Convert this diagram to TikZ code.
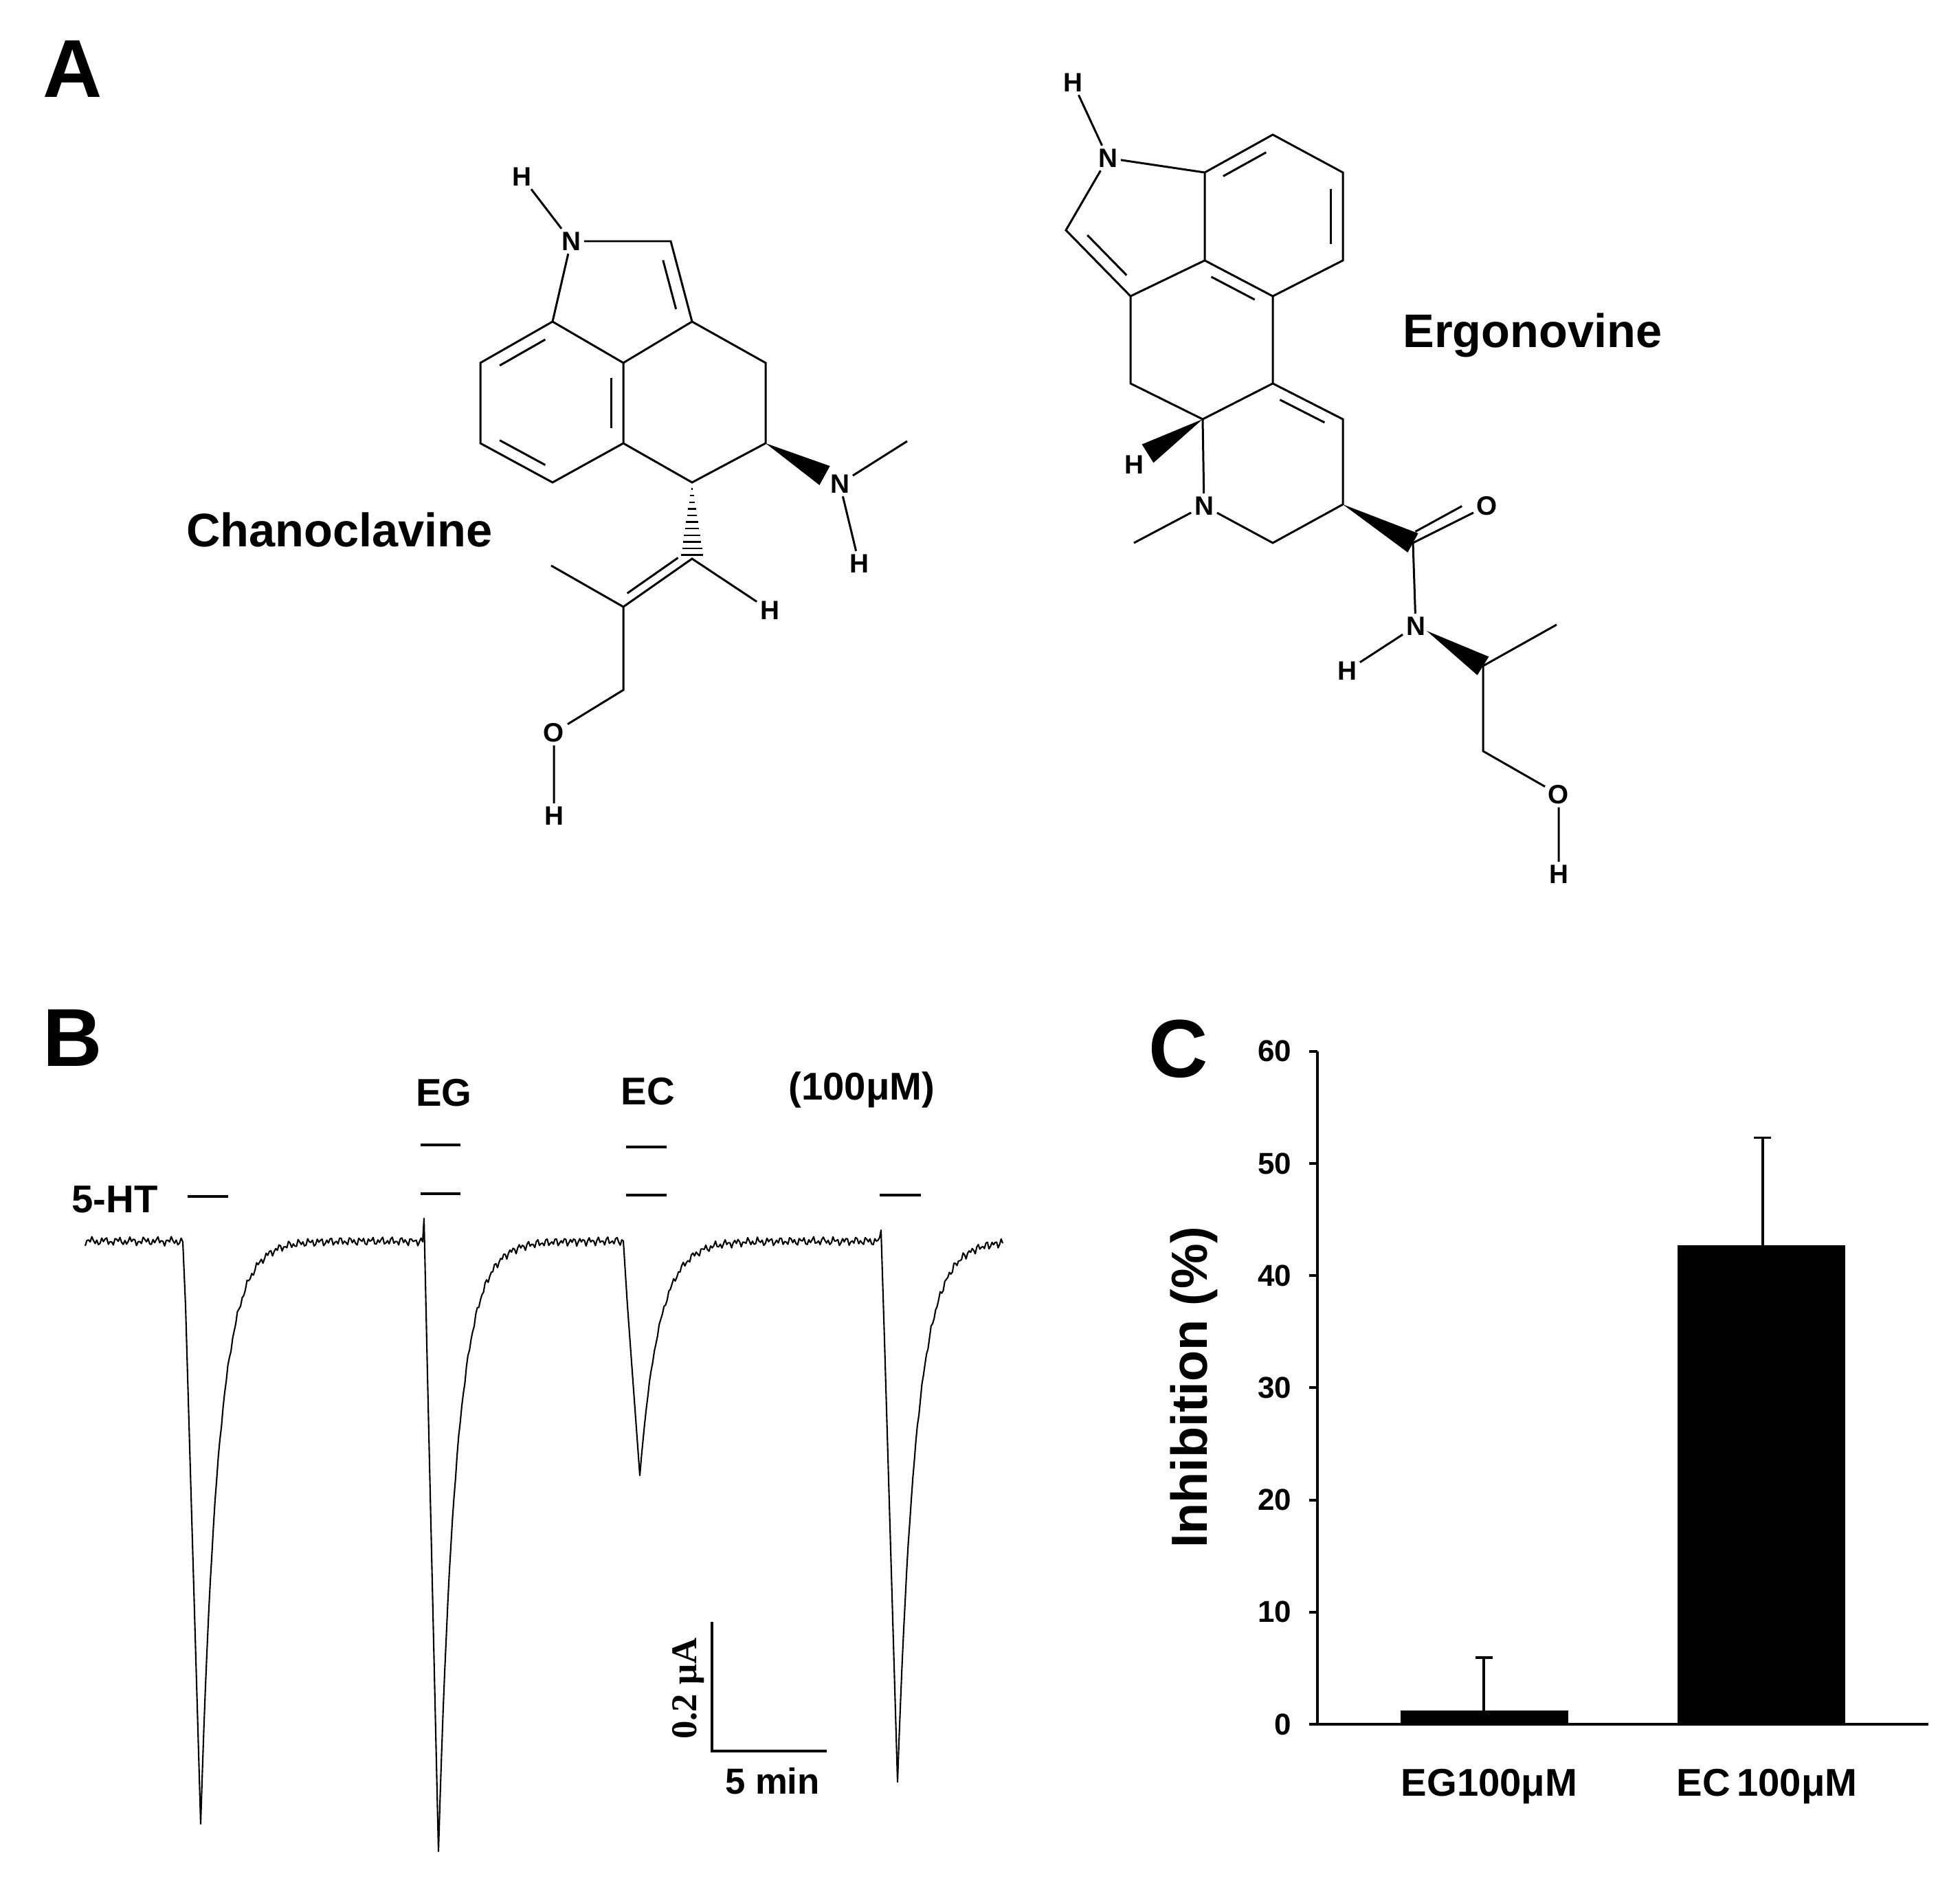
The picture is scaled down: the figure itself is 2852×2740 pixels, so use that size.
\documentclass[tikz,border=0pt]{standalone}
\usepackage{fontspec}
\setmainfont{Liberation Sans}
\newfontfamily\serifb{Liberation Serif}
\usetikzlibrary{calc}
\newcommand\dbl[5]{\draw[bond] ($(#1)!#4!(#2)!#5!(#3)$) -- ($(#2)!#4!(#1)!#5!(#3)$);}
\newcommand\wedgeb[3]{\fill ($(#1)$) -- ($(#2)!#3!90:(#1)$) -- ($(#2)!#3!-90:(#1)$) -- cycle;}
\begin{document}
\begin{tikzpicture}[x=0.01cm,y=-0.01cm,
  bond/.style={line width=0.85pt},
  atom/.style={font=\bfseries\fontsize{11}{11}\selectfont, inner sep=1.2pt},
  letter/.style={font=\bfseries\fontsize{34}{34}\selectfont},
  mname/.style={font=\bfseries\fontsize{19.5}{20}\selectfont},
  lab/.style={font=\bfseries\fontsize{16}{16}\selectfont},
  tick/.style={font=\bfseries\fontsize{12.5}{13}\selectfont, anchor=east, inner sep=0pt},
  trace/.style={line width=0.6pt, line join=round},
  declare function={nz(\x)=4*sin(53*mod(\x,300))+3*sin(131*mod(\x,110)+40);}]
\useasboundingbox (0,0) rectangle (2852,2740);
\fill[white] (0,0) rectangle (2852,2740);

% ---------- Panel letters
\node[letter] (lA) at (106,100) {A};
\node[letter] (lB) at (106,1510) {B};
\node[letter] (lC) at (1715,1526) {C};

% ---------- Chanoclavine
\node[mname] (chan) at (494,771) {Chanoclavine};
\node[atom] (cN) at (831,351) {N};
\node[atom] (cH1) at (759,257) {H};
\coordinate (c2) at (976,351);
\coordinate (c3) at (1007,468);
\coordinate (c7a) at (804,468);
\coordinate (c7) at (699,528);
\coordinate (c6) at (699,645);
\coordinate (c5) at (804,702);
\coordinate (c4a) at (907,645);
\coordinate (c3a) at (907,528);
\coordinate (c4) at (1114,528);
\coordinate (c5b) at (1114,645);
\node[atom] (cN2) at (1222,704) {N};
\coordinate (cN2t) at (1200,692);
\coordinate (cMe) at (1320,642);
\node[atom] (cH2) at (1250,820) {H};
\coordinate (c10) at (1007,702);
\coordinate (cv1) at (1007,813);
\coordinate (cv2) at (907,883);
\coordinate (cMe2) at (802,823);
\node[atom] (cH3) at (1120,888) {H};
\coordinate (cch2) at (907,1004);
\node[atom] (cO) at (806,1066) {O};
\node[atom] (cH4) at (806,1187) {H};
\coordinate (cbz) at (803,586);
\coordinate (cpy) at (905,433);
\coordinate (calk) at (911,782);
\draw[bond] (cH1) -- (cN);
\draw[bond] (cN) -- (c2) -- (c3);
\draw[bond] (cN) -- (c7a);
\draw[bond] (c7a) -- (c7) -- (c6) -- (c5) -- (c4a) -- (c3a) -- (c7a);
\draw[bond] (c3a) -- (c3) -- (c4) -- (c5b) -- (c10) -- (c4a);
\draw[bond] (cN2) -- (cMe);
\draw[bond] (cN2) -- (cH2);
\draw[bond] (cH3) -- (cv1) -- (cv2) -- (cMe2);
\draw[bond] (cv2) -- (cch2) -- (cO) -- (cH4);
\dbl{c7a}{c7}{cbz}{0.12}{0.17}
\dbl{c6}{c5}{cbz}{0.12}{0.17}
\dbl{c3a}{c4a}{cbz}{0.12}{0.17}
\dbl{c2}{c3}{cpy}{0.12}{0.2}
\dbl{cv1}{cv2}{calk}{0.06}{0.16}
\wedgeb{c5b}{cN2t}{4.5pt}
\foreach \k in {1,...,11} \draw[line width=0.7pt] (1007-\k*1.45,702+\k*9.6) -- (1007+\k*1.45,702+\k*9.6);

% ---------- Ergonovine
\node[mname] (ergo) at (2230,488) {Ergonovine};
\node[atom] (eH1) at (1561,120) {H};
\node[atom] (eN) at (1612,230) {N};
\coordinate (e2) at (1551,335);
\coordinate (e3) at (1645,431);
\coordinate (e3a) at (1753,379);
\coordinate (eA) at (1753,251);
\coordinate (eB) at (1852,196);
\coordinate (eC) at (1954,251);
\coordinate (eD) at (1954,379);
\coordinate (eE) at (1852,431);
\coordinate (eF) at (1852,558);
\coordinate (eG) at (1954,610);
\coordinate (eH) at (1954,734);
\coordinate (eI) at (1852,790);
\node[atom] (eN6) at (1752,736) {N};
\coordinate (eMe) at (1650,790);
\coordinate (eJ) at (1750,610);
\coordinate (eK) at (1645,558);
\node[atom] (eHw) at (1650,676) {H};
\coordinate (eHt) at (1670,660);
\coordinate (eCO) at (2056,790);
\node[atom] (eO) at (2164,736) {O};
\node[atom] (eN2) at (2060,911) {N};
\coordinate (eN2t) at (2076,918);
\node[atom] (eH2) at (1960,976) {H};
\coordinate (eL) at (2158,969);
\coordinate (eMe2) at (2265,909);
\coordinate (eM) at (2158,1093);
\node[atom] (eO2) at (2268,1156) {O};
\node[atom] (eH3) at (2268,1272) {H};
\coordinate (ebz) at (1853,315);
\coordinate (epy) at (1662,325);
\coordinate (ec) at (1750,495);
\coordinate (ed) at (1852,673);
\coordinate (eco) at (2069,692);
\draw[bond] (eH1) -- (eN);
\draw[bond] (eN) -- (e2) -- (e3);
\draw[bond] (eN) -- (eA);
\draw[bond] (eA) -- (eB) -- (eC) -- (eD) -- (eE) -- (e3a) -- (eA);
\draw[bond] (e3a) -- (e3) -- (eK) -- (eJ) -- (eF) -- (eE);
\draw[bond] (eF) -- (eG) -- (eH) -- (eI) -- (eN6) -- (eJ);
\draw[bond] (eN6) -- (eMe);
\draw[bond] (eCO) -- (eO);
\draw[bond] (eCO) -- (eN2) -- (eH2);
\draw[bond] (eMe2) -- (eL) -- (eM) -- (eO2) -- (eH3);
\dbl{e2}{e3}{epy}{0.12}{0.2}
\dbl{eA}{eB}{ebz}{0.12}{0.17}
\dbl{eC}{eD}{ebz}{0.12}{0.17}
\dbl{e3a}{eE}{ec}{0.12}{0.16}
\dbl{eF}{eG}{ed}{0.12}{0.16}
\coordinate (eOb) at (2140,744);
\dbl{eCO}{eOb}{eco}{0.02}{0.16}
\wedgeb{eJ}{eHt}{4.5pt}
\wedgeb{eH}{eCO}{4.5pt}
\wedgeb{eN2t}{eL}{4.5pt}

% ---------- Panel B
\node[lab] (t5ht) at (167,1745) {5-HT};
\node[lab] (tEG) at (646,1590) {EG};
\node[lab] (tEC) at (943,1588) {EC};
\node[lab] (tuM) at (1254,1586) {(100μM)};
\foreach \a/\b/\y/\n in {273/332/1741/b1, 612/670/1666/b2, 612/670/1737/b3, 911/970/1669/b4, 911/970/1739/b5, 1280/1340/1739/b6}{
  \coordinate (\n l) at (\a,\y); \coordinate (\n r) at (\b,\y);
  \draw[line width=1.4pt] (\n l) -- (\n r);
}
% trace
\draw[trace] plot[domain=124:266, samples=60] (\x,{1806+nz(\x)}) -- (270,1900) -- (292,2654)
  -- plot[domain=292:615, samples=140] (\x,{1806+848*exp(-(\x-292)/26)+nz(\x)*(1-exp(-(\x-292)/26))})
  -- (617,1773) -- (622,2000) -- (638,2694)
  -- plot[domain=638:907, samples=120] (\x,{1806+888*exp(-(\x-638)/26)+nz(\x)*(1-exp(-(\x-638)/26))})
  -- (913,1900) -- (931,2147)
  -- plot[domain=931:1280, samples=150] (\x,{1806+341*exp(-(\x-931)/28)+nz(\x)*(1-exp(-(\x-931)/28))})
  -- (1282,1790) -- (1287,1950) -- (1306,2593)
  -- plot[domain=1306:1459, samples=70] (\x,{1806+787*exp(-(\x-1306)/27)+nz(\x)*(1-exp(-(\x-1306)/27))});
% scale bar
\coordinate (sbt) at (1036,2360);
\coordinate (sbc) at (1036,2548);
\coordinate (sbr) at (1203,2548);
\draw[line width=1.1pt] (sbt) -- (sbc) -- (sbr);
\node[font=\serifb\bfseries\fontsize{15}{15}\selectfont, rotate=90] (sbA) at (1002,2457) {0.2 μA};
\node[font=\bfseries\fontsize{15}{15}\selectfont] (sbm) at (1124,2592) {5 min};

% ---------- Panel C
\coordinate (ax0) at (1917,2509);
\coordinate (axt) at (1917,1530);
\coordinate (axr) at (2806,2509);
\draw[line width=1.1pt] (axt) -- (ax0) -- (axr);
\foreach \v in {0,10,...,60}{
  \coordinate (tk\v) at (1917,{2509-16.32*\v});
  \draw[line width=1.1pt] (tk\v) -- ++(-12,0);
  \node[tick] (tl\v) at (1880,{2509-16.32*\v}) {\v};
}
\node[font=\bfseries\fontsize{21}{21}\selectfont, rotate=90] (ylab) at (1737,2019) {Inhibition (\%)};
\fill (2038,2509) rectangle (2282,{2509-16.32*1.2});
\fill (2441,2509) rectangle (2685,{2509-16.32*42.7});
\draw[line width=1.1pt] (2159,{2509-16.32*1.2}) -- (2159,{2509-16.32*5.95}) (2147,{2509-16.32*5.95}) -- (2172,{2509-16.32*5.95});
\draw[line width=1.1pt] (2565,{2509-16.32*42.7}) -- (2565,{2509-16.32*52.3}) (2552,{2509-16.32*52.3}) -- (2577,{2509-16.32*52.3});
\node[lab] (cat1) at (2167,2600) {EG100μM};
\node[lab] (cat2) at (2571,2600) {EC\,100μM};
\end{tikzpicture}
\end{document}
